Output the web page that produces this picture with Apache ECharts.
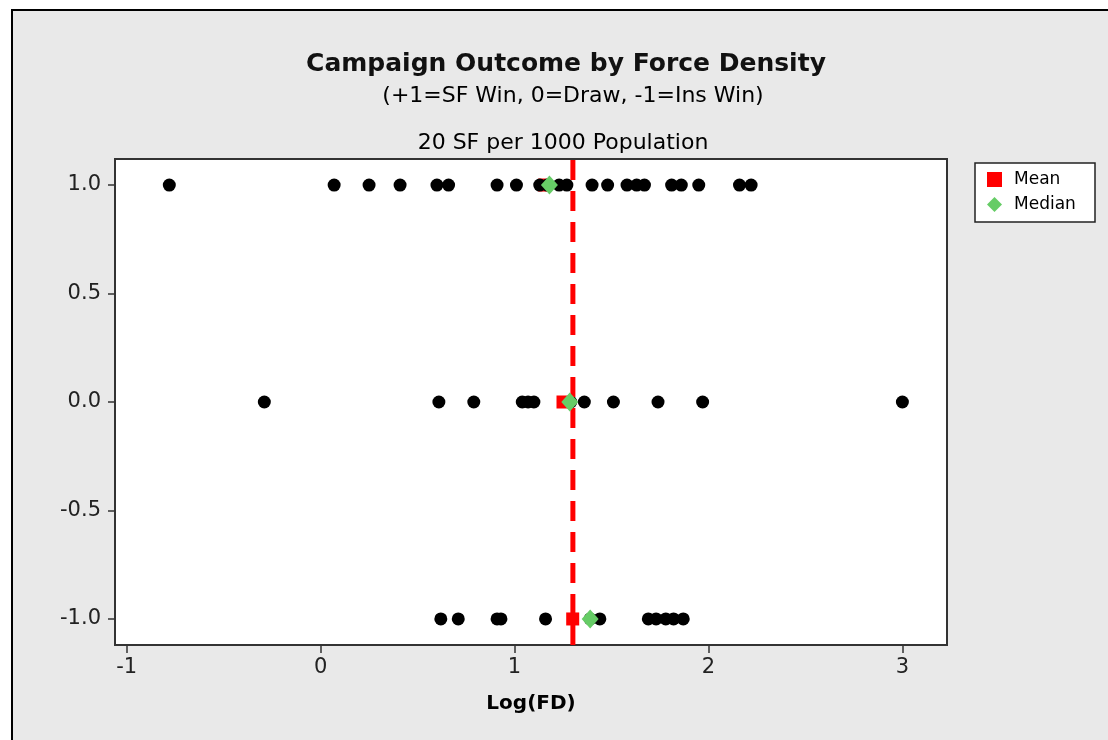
<!DOCTYPE html>
<html>
<head>
<meta charset="utf-8">
<script src="https://cdn.jsdelivr.net/npm/echarts@6/dist/echarts.min.js"></script>
<style>
html,body{margin:0;padding:0;background:#fff;}
#c{width:1108px;height:740px;}
</style>
</head>
<body>
<div id="c"></div>
<script>
// Log(FD) values for each campaign outcome
const sfWin = [-0.78, 0.07, 0.25, 0.41, 0.60, 0.66, 0.91, 1.01, 1.13, 1.17, 1.23, 1.27, 1.40, 1.48, 1.58, 1.63, 1.67, 1.81, 1.86, 1.95, 2.16, 2.22];
const draw = [-0.29, 0.61, 0.79, 1.04, 1.07, 1.10, 1.29, 1.36, 1.51, 1.74, 1.97, 3.00];
const insWin = [0.62, 0.71, 0.91, 0.93, 1.16, 1.39, 1.44, 1.69, 1.73, 1.78, 1.82, 1.87];
const outcomes = [1, 0, -1];
const means = [1.155, 1.25, 1.30];
const medians = [1.18, 1.285, 1.39];
const refLine = 1.301; // log10(20)
const xTicks = [-1, 0, 1, 2, 3];
const yTicks = [-1, -0.5, 0, 0.5, 1];
const xRange = [-1.06, 3.23];
const yRange = [-1.12, 1.12];

const pts = [];
[sfWin, draw, insWin].forEach((arr, i) => arr.forEach(v => pts.push([v, outcomes[i]])));
const meanPts = means.map((m, i) => [m, outcomes[i]]);
const medPts = medians.map((m, i) => [m, outcomes[i]]);

const font = 'DejaVu Sans';
const chart = echarts.init(document.getElementById('c'));
chart.setOption({
  animation: false,
  backgroundColor: '#ffffff',
  graphic: [
    { type: 'rect', z: -10, shape: { x: 12, y: 10, width: 1110, height: 740 },
      style: { fill: '#e9e9e9', stroke: '#000', lineWidth: 2 } },
    { type: 'rect', z: 10, shape: { x: 975, y: 163, width: 120, height: 59 },
      style: { fill: '#ffffff', stroke: '#222', lineWidth: 1.5 } }
  ],
  title: [
    { text: 'Campaign Outcome by Force Density', left: 561, textAlign: 'center', top: 47,
      textStyle: { fontFamily: font, fontSize: 25, fontWeight: 'bold', color: '#111' } },
    { text: '(+1=SF Win, 0=Draw, -1=Ins Win)', left: 568, textAlign: 'center', top: 80,
      textStyle: { fontFamily: font, fontSize: 22, fontWeight: 'normal', color: '#000' } },
    { text: '20 SF per 1000 Population', left: 558, textAlign: 'center', top: 127,
      textStyle: { fontFamily: font, fontSize: 22, fontWeight: 'normal', color: '#000' } }
  ],
  legend: {
    orient: 'vertical', left: 982, top: 166, itemWidth: 15, itemHeight: 15, itemGap: 8, z: 30,
    data: ['Mean', 'Median'],
    textStyle: { fontFamily: font, fontSize: 17, color: '#000', padding: [0, 0, 0, 7] }
  },
  grid: { left: 115, right: 161, top: 159, bottom: 95, show: true, backgroundColor: '#fff',
          borderColor: '#333', borderWidth: 2, containLabel: false },
  xAxis: {
    type: 'value', min: xRange[0], max: xRange[1],
    name: 'Log(FD)', nameLocation: 'middle', nameGap: 49,
    nameTextStyle: { fontFamily: font, fontSize: 20, fontWeight: 'bold', color: '#000' },
    axisLine: { show: false, onZero: false },
    axisTick: { show: true, customValues: xTicks, length: 8, lineStyle: { color: '#333', width: 1.5 } },
    axisLabel: { customValues: xTicks, fontFamily: font, fontSize: 21, color: '#222', margin: 12 },
    splitLine: { show: false }
  },
  yAxis: {
    type: 'value', min: yRange[0], max: yRange[1],
    axisLine: { show: false, onZero: false },
    axisTick: { show: true, customValues: yTicks, length: 7, lineStyle: { color: '#333', width: 1.5 } },
    axisLabel: { customValues: yTicks, fontFamily: font, fontSize: 21, color: '#222', margin: 14,
                 formatter: v => v.toFixed(1) },
    splitLine: { show: false }
  },
  series: [
    { name: 'ref', type: 'line', data: [[refLine, yRange[0]], [refLine, yRange[1]]], symbol: 'none',
      lineStyle: { color: '#ff0000', width: 5, type: [20, 11] }, z: 3, silent: true },
    { name: 'data', type: 'scatter', data: pts, symbol: 'circle', symbolSize: 13,
      itemStyle: { color: '#000', opacity: 1 }, z: 2 },
    { name: 'Mean', type: 'scatter', data: meanPts, symbol: 'rect', symbolSize: 13,
      itemStyle: { color: '#ff0000', opacity: 1 }, z: 1 },
    { name: 'Median', type: 'scatter', data: medPts, symbol: 'diamond', symbolSize: [17, 19],
      itemStyle: { color: '#66cc66', opacity: 1 }, z: 4 }
  ]
});
</script>
</body>
</html>
